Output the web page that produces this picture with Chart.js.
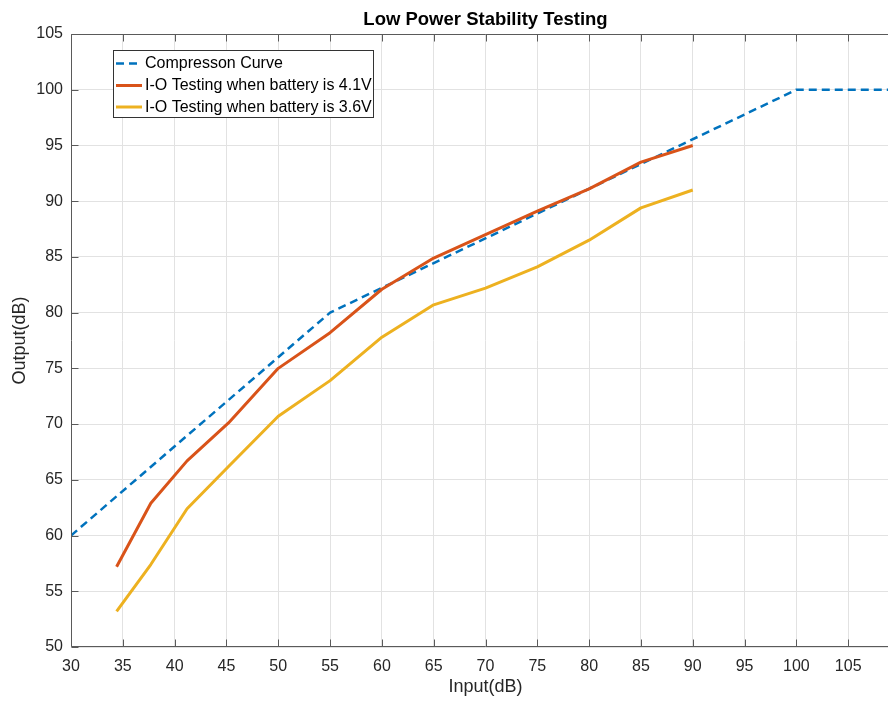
<!DOCTYPE html>
<html>
<head>
<meta charset="utf-8">
<title>Low Power Stability Testing</title>
<script src="https://cdn.jsdelivr.net/npm/chart.js@4"></script>
<style>
  html, body { margin: 0; padding: 0; background: #ffffff; }
  #wrap { width: 888px; height: 702px; overflow: hidden; position: relative; }
  #c { display: block; }
</style>
</head>
<body>
<div id="wrap"><canvas id="c" width="904" height="702"></canvas></div>
<script>
// Ideal compression curve (input dB -> output dB), breakpoints
const curveInput  = [30, 55, 100, 110];
const curveOutput = [60, 80, 100, 100];

// Measured input levels (dB)
const testInput = [34.4, 37.7, 41.2, 45.2, 50.0, 55.0, 60.0, 65.0, 70.0, 75.0, 80.0, 85.0, 90.0];
// Measured output (dB), battery at 4.1 V
const output41V = [57.2, 62.9, 66.7, 70.1, 75.0, 78.2, 82.1, 84.9, 87.0, 89.1, 91.1, 93.5, 95.0];
// Measured output (dB), battery at 3.6 V
const output36V = [53.2, 57.4, 62.4, 66.2, 70.7, 73.9, 77.8, 80.7, 82.2, 84.1, 86.5, 89.4, 91.0];

// Axis tick values
const xTicks = [30, 35, 40, 45, 50, 55, 60, 65, 70, 75, 80, 85, 90, 95, 100, 105];
const yTicks = [50, 55, 60, 65, 70, 75, 80, 85, 90, 95, 100, 105];

const seriesLabels = ['Compresson Curve', 'I-O Testing when battery is 4.1V', 'I-O Testing when battery is 3.6V'];

const FONT = "'Liberation Sans', Arial, Helvetica, sans-serif";
const TEXT = '#262626';
const AXIS = '#5a5a5a';
const GRID = '#e2e2e2';

const toPoints = (xs, ys) => xs.map((x, i) => ({ x: x, y: ys[i] }));

// Box outline with inward tick marks (top, bottom, left)
const axesFrame = {
  id: 'axesFrame',
  afterDatasetsDraw(chart) {
    const { ctx, chartArea: a, scales } = chart;
    const L = Math.round(a.left) + 0.5, R = Math.round(a.right) - 0.5;
    const T = Math.round(a.top) + 0.5, B = Math.round(a.bottom) - 0.5;
    const tick = 7;
    ctx.save();
    ctx.strokeStyle = AXIS;
    ctx.lineWidth = 1;
    ctx.beginPath();
    ctx.moveTo(L, T); ctx.lineTo(R, T); ctx.lineTo(R, B); ctx.lineTo(L, B); ctx.closePath();
    xTicks.forEach(v => {
      const px = Math.round(scales.x.getPixelForValue(v)) + 0.5;
      ctx.moveTo(px, B); ctx.lineTo(px, B - tick);
      ctx.moveTo(px, T); ctx.lineTo(px, T + tick);
    });
    yTicks.forEach(v => {
      const py = Math.round(scales.y.getPixelForValue(v)) + 0.5;
      ctx.moveTo(L, py); ctx.lineTo(L + tick, py);
      ctx.moveTo(R, py); ctx.lineTo(R - tick, py);
    });
    ctx.stroke();
    ctx.restore();
  }
};

// Legend box in the upper-left corner of the plot area
const insetLegend = {
  id: 'insetLegend',
  afterDraw(chart) {
    const ctx = chart.ctx;
    const bx = 113.5, by = 50.5, bw = 260, bh = 67;
    const rows = [63.5, 85.5, 107];
    ctx.save();
    ctx.fillStyle = '#ffffff';
    ctx.fillRect(bx, by, bw, bh);
    ctx.strokeStyle = '#333333';
    ctx.lineWidth = 1;
    ctx.strokeRect(bx, by, bw, bh);
    chart.data.datasets.forEach((ds, i) => {
      const y = rows[i];
      ctx.beginPath();
      ctx.strokeStyle = ds.borderColor;
      ctx.lineWidth = ds.borderWidth;
      ctx.setLineDash(ds.borderDash || []);
      ctx.moveTo(116, y);
      ctx.lineTo(142, y);
      ctx.stroke();
      ctx.setLineDash([]);
      ctx.fillStyle = '#000000';
      ctx.font = '16px ' + FONT;
      ctx.textBaseline = 'middle';
      ctx.textAlign = 'left';
      ctx.fillText(ds.label, 145, y + 0.5);
    });
    ctx.restore();
  }
};

new Chart(document.getElementById('c'), {
  type: 'line',
  data: {
    datasets: [
      {
        label: seriesLabels[0],
        data: toPoints(curveInput, curveOutput),
        borderColor: '#0072BD',
        borderWidth: 2.5,
        borderDash: [8, 5],
        order: 2
      },
      {
        label: seriesLabels[1],
        data: toPoints(testInput, output41V),
        borderColor: '#D95319',
        borderWidth: 3,
        order: 1
      },
      {
        label: seriesLabels[2],
        data: toPoints(testInput, output36V),
        borderColor: '#EDB120',
        borderWidth: 3,
        order: 1
      }
    ]
  },
  options: {
    responsive: false,
    animation: false,
    events: [],
    layout: { padding: { left: 0, right: 4, top: 0, bottom: 0 } },
    elements: {
      point: { radius: 0 },
      line: { tension: 0, fill: false, borderJoinStyle: 'round', borderCapStyle: 'butt' }
    },
    plugins: {
      legend: { display: false },
      tooltip: { enabled: false },
      title: {
        display: true,
        fullSize: false,
        text: 'Low Power Stability Testing',
        color: '#000000',
        font: { family: FONT, size: 18.5, weight: 'bold', lineHeight: 1.2 },
        padding: { top: 8.5, bottom: 3.3 }
      }
    },
    scales: {
      x: {
        type: 'linear',
        min: 30,
        max: 110,
        afterBuildTicks: s => { s.ticks = xTicks.map(v => ({ value: v })); },
        afterFit: s => { s.height = 55; },
        grid: { color: GRID, lineWidth: 1, drawTicks: false },
        border: { display: false },
        ticks: {
          color: TEXT,
          font: { family: FONT, size: 16 },
          padding: 10,
          maxRotation: 0
        },
        title: {
          display: true,
          text: 'Input(dB)',
          color: TEXT,
          font: { family: FONT, size: 18 },
          padding: { top: 0, bottom: 4 }
        }
      },
      y: {
        type: 'linear',
        min: 50,
        max: 105,
        afterBuildTicks: s => { s.ticks = yTicks.map(v => ({ value: v })); },
        afterFit: s => { s.width = 71; },
        grid: { color: GRID, lineWidth: 1, drawTicks: false },
        border: { display: false },
        ticks: {
          color: TEXT,
          font: { family: FONT, size: 16 },
          padding: 8
        },
        title: {
          display: true,
          text: 'Output(dB)',
          color: TEXT,
          font: { family: FONT, size: 18 },
          padding: { top: 9.4, bottom: 0 }
        }
      }
    }
  },
  plugins: [axesFrame, insetLegend]
});
</script>
</body>
</html>
